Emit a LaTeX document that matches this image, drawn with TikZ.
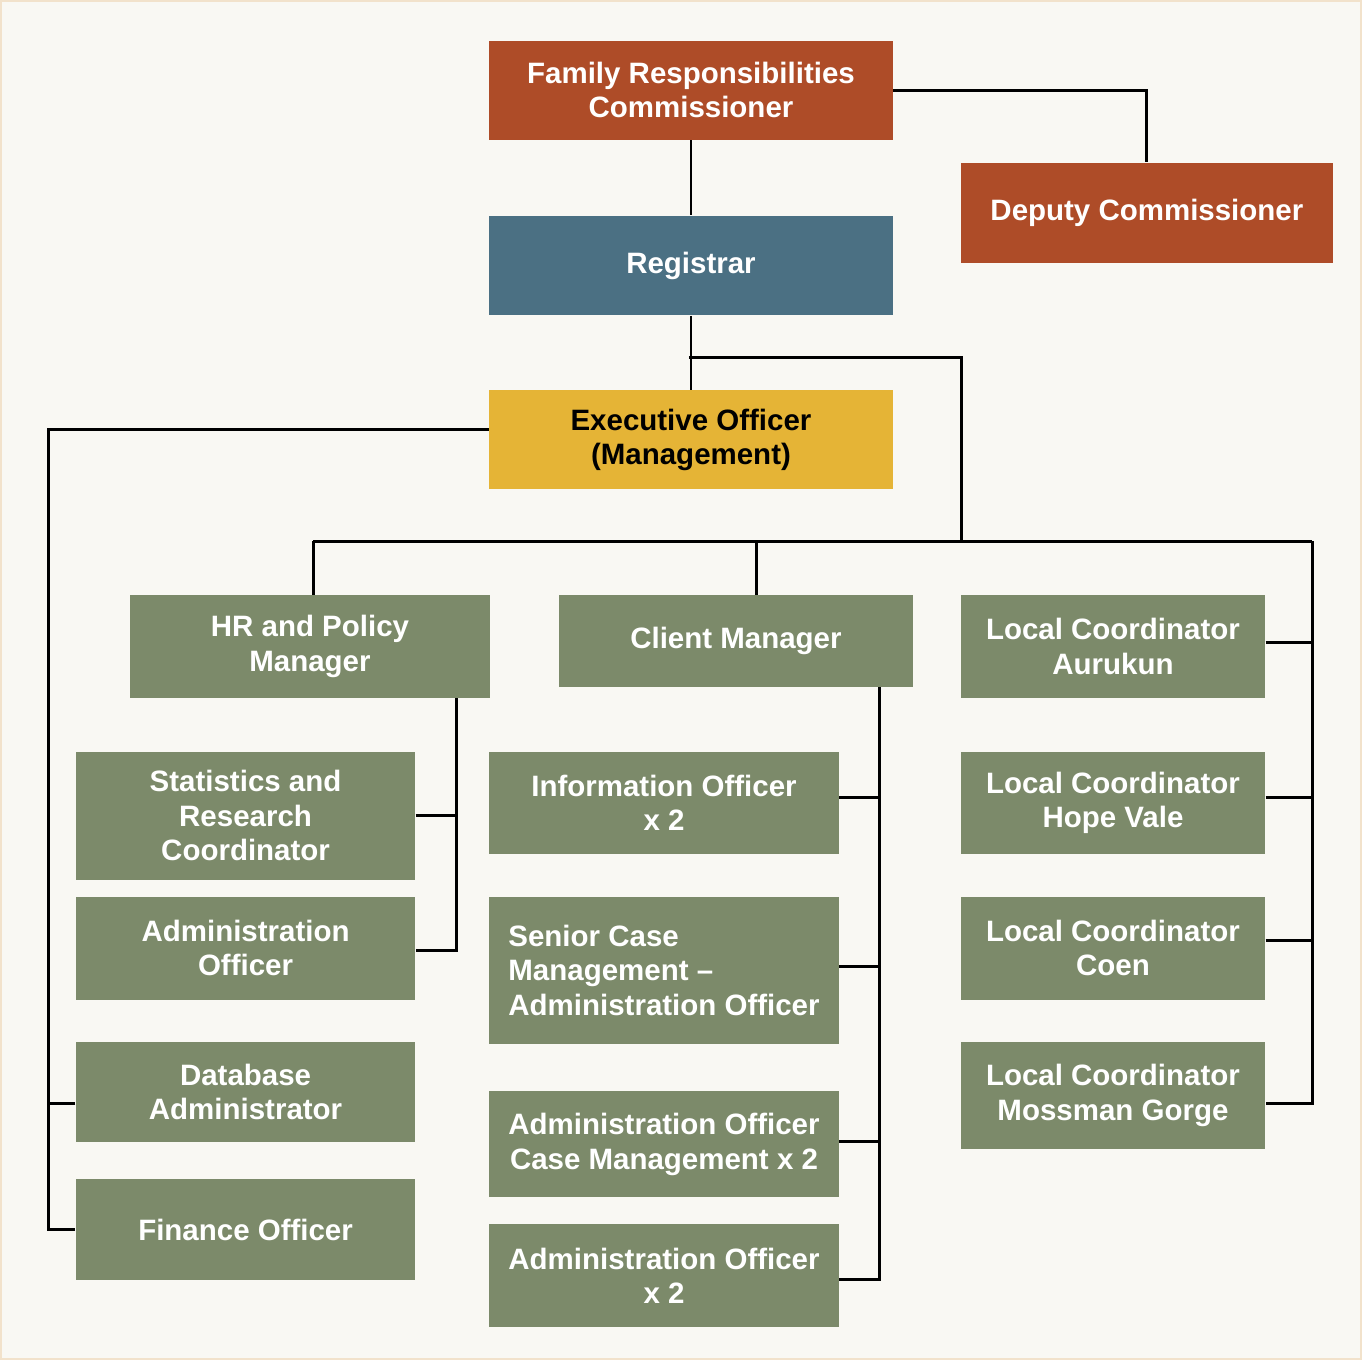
\documentclass[tikz,border=0pt]{standalone}
\usepackage{fontspec}
\setmainfont{Liberation Sans}
\definecolor{rust}{HTML}{AE4C28}
\definecolor{slate}{HTML}{4B7083}
\definecolor{gold}{HTML}{E5B436}
\definecolor{sage}{HTML}{7C8A6A}
\definecolor{paper}{HTML}{F9F8F3}
\definecolor{rim}{HTML}{F2E2CB}
\begin{document}
\begin{tikzpicture}[x=0.02cm,y=-0.02cm,
  post/.style={inner sep=0pt,text=white,align=center,
    font=\bfseries\fontsize{16.8}{19.6}\selectfont},
  link/.style={line width=1.7pt}]
   \filldraw[fill=paper,draw=rim,line width=1pt] (0,0) rectangle (1362,1360);
   % top of the tree
   \node[post,fill=rust,minimum width=8.08cm,minimum height=1.98cm] (frc) at (691,89.5) {Family Responsibilities\\Commissioner};
   \node[post,fill=rust,minimum width=7.46cm,minimum height=2cm] (dep) at (1147.5,212) {Deputy Commissioner};
   \node[post,fill=slate,minimum width=8.08cm,minimum height=2cm] (reg) at (691,265) {Registrar};
   \node[post,fill=gold,text=black,minimum width=8.08cm,minimum height=1.98cm] (exec) at (691,439.5) {Executive Officer\\(Management)};
   % second row
   \node[post,fill=sage,minimum width=7.22cm,minimum height=2.06cm] (hr) at (309.5,646.5) {HR and Policy\\Manager};
   \node[post,fill=sage,minimum width=7.08cm,minimum height=1.84cm] (cm) at (736,641) {Client Manager};
   \node[post,fill=sage,minimum width=6.1cm,minimum height=2.06cm] (aur) at (1113.5,646.5) {Local Coordinator\\Aurukun};
   % left column
   \node[post,fill=sage,minimum width=6.8cm,minimum height=2.56cm] (stat) at (245,816) {Statistics and\\Research\\Coordinator};
   \node[post,fill=sage,minimum width=6.8cm,minimum height=2.06cm] (adm) at (245,948.5) {Administration\\Officer};
   \node[post,fill=sage,minimum width=6.8cm,minimum height=2.02cm] (db) at (245,1092.5) {Database\\Administrator};
   \node[post,fill=sage,minimum width=6.8cm,minimum height=2.02cm] (fin) at (245,1230.5) {Finance Officer};
   % middle column
   \node[post,fill=sage,minimum width=7cm,minimum height=2.04cm] (info) at (664,803) {Information Officer\\x 2};
   \node[post,fill=sage,align=left,minimum width=7cm,minimum height=2.94cm] (sen) at (664,970.5) {Senior Case\\Management --\\Administration Officer};
   \node[post,fill=sage,minimum width=7cm,minimum height=2.12cm] (case) at (664,1145) {Administration Officer\\Case Management x 2};
   \node[post,fill=sage,minimum width=7cm,minimum height=2.06cm] (ao2) at (664,1276.5) {Administration Officer\\x 2};
   % right column
   \node[post,fill=sage,minimum width=6.1cm,minimum height=2.04cm] (hope) at (1113.5,803) {Local Coordinator\\Hope Vale};
   \node[post,fill=sage,minimum width=6.1cm,minimum height=2.06cm] (coen) at (1113.5,948.5) {Local Coordinator\\Coen};
   \node[post,fill=sage,minimum width=6.1cm,minimum height=2.16cm] (mos) at (1113.5,1096) {Local Coordinator\\Mossman Gorge};
   % junctions
   \coordinate (rj) at (689,357);
   \coordinate (busL) at (313,541);
   \coordinate (busM) at (757,541);
   \coordinate (busR) at (1313,541);
   \coordinate (lx) at (48,0);
   \coordinate (hx) at (456,0);
   \coordinate (cx) at (880,0);
   % connectors
   \draw[link] (frc.east) -| (dep.north);
   \draw[link] (frc) -- (reg);
   \draw[link] (reg) -- (exec);
   \draw[link] (rj) -| (962,541);
   \draw[link] (busL) -- (busR);
   \draw[link] (busL) -- (busL |- hr.north);
   \draw[link] (busM) -- (busM |- cm.north);
   \draw[link] (busR) |- ([yshift=-0.16cm]mos.east);
   \draw[link] ([yshift=0.09cm]aur.east) -- ([yshift=0.09cm]aur.east -| busR);
   \draw[link] ([yshift=0.1cm]hope.east) -- ([yshift=0.1cm]hope.east -| busR);
   \draw[link] ([yshift=0.15cm]coen.east) -- ([yshift=0.15cm]coen.east -| busR);
   \draw[link] ([yshift=0.2cm]exec.west) -| (lx |- fin.west) -- (fin.west);
   \draw[link] ([yshift=-0.23cm]db.west) -- ([yshift=-0.23cm]db.west -| lx);
   \draw[link] (hr.south -| hx) |- ([yshift=-0.05cm]adm.east);
   \draw[link] (stat.east) -- (stat.east -| hx);
   \draw[link] (cm.south -| cx) |- ([yshift=-0.07cm]ao2.east);
   \draw[link] ([yshift=0.1cm]info.east) -- ([yshift=0.1cm]info.east -| cx);
   \draw[link] ([yshift=0.07cm]sen.east) -- ([yshift=0.07cm]sen.east -| cx);
   \draw[link] ([yshift=0.06cm]case.east) -- ([yshift=0.06cm]case.east -| cx);
 \end{tikzpicture}
\end{document}
